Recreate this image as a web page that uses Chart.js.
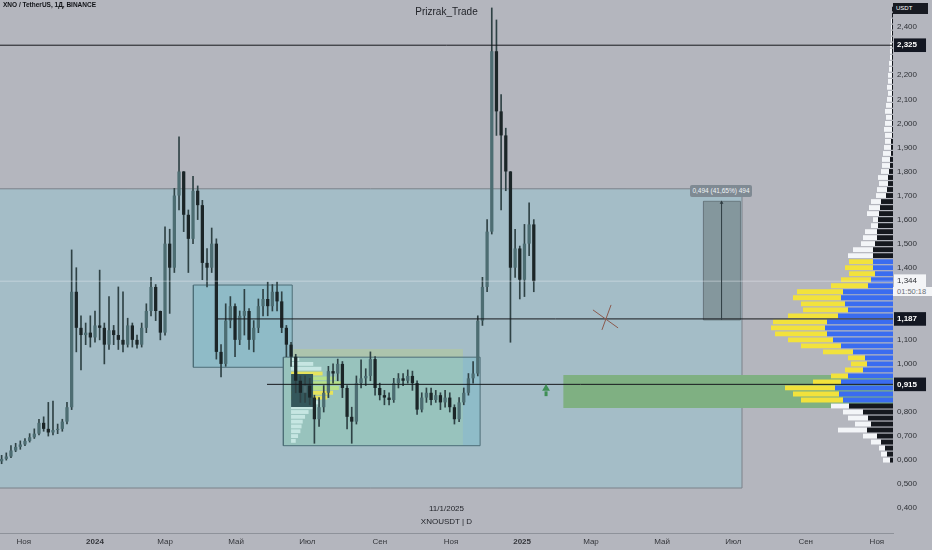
<!DOCTYPE html>
<html>
<head>
<meta charset="utf-8">
<script src="https://cdn.jsdelivr.net/npm/chart.js@4.4.1/dist/chart.umd.min.js"></script>
<style>
html, body { margin: 0; padding: 0; background: #b4b6be; }
#wrap { position: relative; width: 932px; height: 550px; overflow: hidden; font-family: "Liberation Sans", Arial, sans-serif; }
#chart { position: absolute; left: 0; top: 0; }
.lbl { position: absolute; white-space: nowrap; }
</style>
</head>
<body>
<div id="wrap">
  <canvas id="chart" width="932" height="550"></canvas>
  <div class="lbl" style="left:3px;top:1px;font-size:6.5px;font-weight:bold;color:#101216">XNO / TetherUS, 1Д, BINANCE</div>
  <div class="lbl" style="left:0;width:893px;top:6px;text-align:center;font-size:10px;color:#1e2026">Prizrak_Trade</div>
  <div class="lbl" style="left:0;width:893px;top:504px;text-align:center;font-size:8px;color:#1e2026">11/1/2025</div>
  <div class="lbl" style="left:0;width:893px;top:517px;text-align:center;font-size:8px;color:#1e2026">XNOUSDT | D</div>
  <div class="lbl" style="left:893px;top:3px;width:32px;height:11px;padding-left:3px;background:#181b22;color:#fff;font-size:6px;line-height:11px">USDT</div>
  <div class="lbl" style="left:690px;top:185px;width:62px;height:12px;background:#7f8a93;border-radius:2px;color:#eef2f6;font-size:6.5px;line-height:12px;text-align:center">0,494 (41,65%) 494</div>
  <div class="lbl" id="timer" style="left:893px;top:287px;width:35px;height:9px;padding-left:4px;background:#f4f5f7;color:#6b6f78;font-size:7.5px;line-height:9px">01:50:18</div>
</div>
<script>
// days are counted from 1 Jan 2024
var firstCandleDay = -80;
var candleStepDays = 4;

var opens = [0.595,0.605,0.615,0.640,0.655,0.665,0.680,0.695,0.710,0.755,
  0.730,0.715,0.725,0.730,0.760,0.820,1.300,1.150,1.120,1.130,
  1.110,1.160,1.150,1.080,1.140,1.120,1.100,1.080,1.160,1.100,
  1.080,1.150,1.220,1.320,1.220,1.130,1.500,1.400,1.700,1.800,
  1.620,1.520,1.720,1.660,1.420,1.400,1.500,1.050,1.000,1.180,
  1.240,1.100,1.200,1.220,1.100,1.150,1.240,1.270,1.240,1.300,
  1.260,1.150,1.080,1.030,0.930,0.880,0.910,0.860,0.770,0.820,
  0.880,0.970,0.960,1.000,0.900,0.780,0.760,0.920,0.940,0.950,
  1.020,0.900,0.870,0.860,0.850,0.920,0.940,0.930,0.950,0.920,
  0.810,0.860,0.880,0.850,0.870,0.840,0.860,0.820,0.770,0.840,
  0.880,0.940,0.960,1.180,1.320,1.550,2.300,2.050,1.950,1.800,
  1.400,1.480,1.350,1.500,1.580];
var highs = [0.620,0.630,0.660,0.670,0.680,0.690,0.710,0.730,0.770,0.780,
  0.840,0.845,0.750,0.770,0.840,1.474,1.400,1.200,1.170,1.200,
  1.220,1.390,1.170,1.280,1.160,1.320,1.300,1.190,1.170,1.120,
  1.170,1.250,1.360,1.330,1.220,1.570,1.560,1.730,1.944,1.800,
  1.640,1.780,1.740,1.680,1.480,1.565,1.520,1.080,1.250,1.280,
  1.250,1.220,1.310,1.230,1.180,1.270,1.310,1.340,1.330,1.340,
  1.300,1.160,1.090,1.040,0.950,0.950,0.940,0.870,0.860,0.910,
  0.990,1.000,1.020,1.010,0.910,0.820,0.950,1.017,0.980,1.050,
  1.030,0.920,0.890,0.880,0.940,0.960,0.960,0.975,0.970,0.930,
  0.880,0.900,0.900,0.890,0.880,0.890,0.880,0.830,0.860,0.900,
  0.960,1.010,1.200,1.360,1.600,2.480,2.430,2.120,1.980,1.800,
  1.560,1.490,1.580,1.670,1.600];
var lows = [0.585,0.600,0.610,0.635,0.645,0.660,0.675,0.690,0.705,0.720,
  0.700,0.705,0.710,0.720,0.750,0.810,1.050,0.975,1.080,1.070,
  1.090,1.100,1.000,1.060,1.080,1.060,1.050,1.070,1.070,1.065,
  1.070,1.130,1.200,1.180,1.100,1.120,1.210,1.380,1.640,1.550,
  1.380,1.500,1.600,1.350,1.320,1.380,1.020,0.946,0.990,1.150,
  1.030,1.080,1.120,1.060,1.050,1.130,1.200,1.200,1.220,1.220,
  1.130,1.030,0.990,0.880,0.840,0.840,0.830,0.670,0.740,0.800,
  0.860,0.920,0.930,0.860,0.730,0.670,0.750,0.900,0.910,0.930,
  0.870,0.850,0.830,0.830,0.840,0.900,0.910,0.920,0.890,0.790,
  0.800,0.840,0.830,0.840,0.810,0.820,0.800,0.750,0.760,0.830,
  0.870,0.920,0.950,1.160,1.300,1.540,1.950,1.640,1.720,1.090,
  1.360,1.270,1.280,1.450,1.300];
var closes = [0.605,0.615,0.640,0.655,0.665,0.680,0.695,0.710,0.755,0.730,
  0.715,0.725,0.730,0.760,0.820,1.300,1.150,1.120,1.130,1.110,
  1.160,1.150,1.080,1.140,1.120,1.100,1.080,1.160,1.100,1.080,
  1.150,1.220,1.320,1.220,1.130,1.500,1.400,1.700,1.800,1.620,
  1.520,1.720,1.660,1.420,1.400,1.500,1.050,1.000,1.180,1.240,
  1.100,1.200,1.220,1.100,1.150,1.240,1.270,1.240,1.300,1.260,
  1.150,1.080,1.030,0.930,0.880,0.910,0.860,0.770,0.820,0.880,
  0.970,0.960,1.000,0.900,0.780,0.760,0.920,0.940,0.950,1.020,
  0.900,0.870,0.860,0.850,0.920,0.940,0.930,0.950,0.920,0.810,
  0.860,0.880,0.850,0.870,0.840,0.860,0.820,0.770,0.840,0.880,
  0.940,0.960,1.180,1.320,1.550,2.300,2.050,1.950,1.800,1.400,
  1.480,1.350,1.500,1.580,1.344];

// visible volume profile, rows from 0.600 upwards every 0.025
var vpFirstPrice = 0.600;
var vpStep = 0.025;
var vpTotal = [10,12,14,22,30,55,38,45,50,62,
  92,100,108,80,62,48,42,45,70,92,
  105,118,122,120,105,90,92,100,96,62,
  52,44,48,44,45,40,32,30,28,22,
  20,26,24,22,17,16,14,15,12,11,
  11,10,9,8,8,9,8,7,8,7,
  6,5,6,5,5,4,4,3,3,3,
  2,2,2,2,1,1];
var vpInner = [3,6,8,12,16,26,22,25,30,44,
  50,54,58,52,45,30,26,28,40,52,
  60,66,68,66,55,45,48,52,50,25,
  22,18,20,20,20,20,18,16,16,15,
  15,14,13,12,7,6,5,5,4,3,
  3,2,2,2,1,1,1,1,1,1,
  1,1,1,1,1,1,1,1,1,1,
  1,1,1,1,1,1];
var vaLow = 0.84, vaHigh = 1.43;

// fixed range profile inside the lower range box
var miniAnchorDay = 168;
var miniPrices = [0.68,0.70,0.72,0.74,0.76,0.78,0.80,0.82,0.84,0.86,0.88,0.90,0.92,0.94,0.96,0.98,1.00,1.02];
var miniLen = [4,6,8,9,10,12,15,19,24,31,36,41,43,38,27,26,19,7];

// drawings: [dayFrom, dayTo, priceLow, priceHigh]
var mainZone = [-120, 554.4, 0.484, 1.728];
var rangeBox1 = [84.3, 169.0, 0.986, 1.328];
var rangeBox2 = [161.4, 330.0, 0.660, 1.028];
var box2Fill = [161.4, 315.3, 0.660, 1.028];
var box2Band = [169.7, 315.3, 1.028, 1.062];
var darkBlock = [168.0, 187.0, 0.821, 0.958];
var greenZone = [401.2, 700, 0.817, 0.954];
var measureBox = [521.4, 553.1, 1.183, 1.676];
var measureDay = 536.9;

var levelPrices = [2.325, 1.187, 0.915];
var levelFrom = [-120, 104.5, 147.4];
var lastPrice = 1.344;
var crossA = [[426.7, 1.2245], [448.2, 1.1497]];
var crossB = [[442.2, 1.2453], [434.4, 1.1414]];
var arrowDay = 386.5;
var arrowTip = 0.898, arrowTail = 0.866;

var yTickValues = [0.4,0.5,0.6,0.7,0.8,1.0,1.1,1.4,1.5,1.6,1.7,1.8,1.9,2.0,2.1,2.2,2.4];
var monthTickDays = [-61,0,60,121,182,244,305,366,425,486,547,609,670];
var monthTickLabels = ['Ноя','2024','Мар','Май','Июл','Сен','Ноя','2025','Мар','Май','Июл','Сен','Ноя'];

var xMin = -81.4, xMax = 683.8, yMin = 0.297, yMax = 2.513;
var fontFam = '"Liberation Sans", Arial, sans-serif';

function fmtPrice(v) { return v.toFixed(3).replace('.', ','); }

function rectFill(r, color, order) {
  return { type: 'line', data: [{x: r[0], y: r[3]}, {x: r[1], y: r[3]}], fill: {value: r[2]},
    backgroundColor: color, borderWidth: 0, pointRadius: 0, order: order };
}
function rectLine(r, color, order) {
  return { type: 'line', data: [{x: r[0], y: r[2]}, {x: r[1], y: r[2]}, {x: r[1], y: r[3]}, {x: r[0], y: r[3]}, {x: r[0], y: r[2]}],
    borderColor: color, borderWidth: 1, pointRadius: 0, fill: false, order: order };
}
function segment(pts, color, width, order) {
  return { type: 'line', data: pts.map(function(p) { return {x: p[0], y: p[1]}; }),
    borderColor: color, borderWidth: width, pointRadius: 0, fill: false, order: order };
}

var candleDays = closes.map(function(c, i) { return firstCandleDay + i * candleStepDays; });
var vpPrices = vpTotal.map(function(v, i) { return +(vpFirstPrice + i * vpStep).toFixed(3); });
function inVA(p) { return p >= vaLow && p <= vaHigh; }

var datasets = [
  rectFill(mainZone, '#a4bdc7', 100),
  rectLine(mainZone, '#7c838b', 99),
  rectFill(greenZone, '#7fb082', 98),
  rectFill(measureBox, '#84979d', 97),
  rectLine(measureBox, '#6a7a80', 96),
  rectFill(rangeBox1, '#8fbbc7', 95),
  rectLine(rangeBox1, '#4d6e78', 94),
  rectFill(rangeBox2, '#8fbcc8', 93),
  rectFill(box2Fill, '#98c3bd', 92),
  rectFill(box2Band, '#adc4ad', 91),
  {
    type: 'bar', indexAxis: 'y', xAxisID: 'xm', yAxisID: 'ym', grouped: false, order: 86,
    data: miniPrices.map(function(p, i) { return {y: p, x: [miniAnchorDay, miniAnchorDay + miniLen[i]]}; }),
    backgroundColor: function(c) {
      var p = miniPrices[c.dataIndex];
      if (p >= 0.855 && p <= 0.965) return (p >= 0.895 && p <= 0.945) ? '#b6e08a' : '#e6e35c';
      return '#c6e6e2';
    },
    barPercentage: 0.8, categoryPercentage: 1, borderWidth: 0
  },
  rectFill(darkBlock, '#34575b', 85),
  rectLine(rangeBox2, '#4d6e78', 84),
  {
    type: 'bar', indexAxis: 'y', xAxisID: 'xv', yAxisID: 'yv', grouped: false, order: 81,
    data: vpPrices.map(function(p, i) { return {y: p, x: [vpInner[i], vpTotal[i]]}; }),
    backgroundColor: function(c) { return inVA(vpPrices[c.dataIndex]) ? '#f2e23c' : '#f3f5f8'; },
    barPercentage: 0.8, categoryPercentage: 1, borderWidth: 0
  },
  {
    type: 'bar', indexAxis: 'y', xAxisID: 'xv', yAxisID: 'yv', grouped: false, order: 80,
    data: vpPrices.map(function(p, i) { return {y: p, x: [0, vpInner[i]]}; }),
    backgroundColor: function(c) { return inVA(vpPrices[c.dataIndex]) ? '#3a6cf0' : '#15181e'; },
    barPercentage: 0.8, categoryPercentage: 1, borderWidth: 0
  },
  {
    type: 'bar', grouped: false, order: 20,
    data: candleDays.map(function(d, i) { return {x: d, y: [lows[i], highs[i]]}; }),
    backgroundColor: '#2f4245', barThickness: 1, borderWidth: 0
  },
  {
    type: 'bar', grouped: false, order: 19,
    data: candleDays.map(function(d, i) { return {x: d, y: [opens[i], closes[i]]}; }),
    backgroundColor: function(c) { var i = c.dataIndex; return closes[i] >= opens[i] ? '#4d6d72' : '#1b2527'; },
    barPercentage: 0.7, categoryPercentage: 1, minBarLength: 1, borderWidth: 0
  },
  segment([[-120, lastPrice], [700, lastPrice]], 'rgba(232,238,244,0.45)', 1, 15)
];

levelPrices.forEach(function(p, i) {
  datasets.push(segment([[levelFrom[i], p], [700, p]], '#17191d', 1, 10));
});
datasets.push(segment(crossA, '#8c5a4e', 1, 9));
datasets.push(segment(crossB, '#8c5a4e', 1, 9));
datasets.push(segment([[arrowDay, arrowTail], [arrowDay, arrowTip - 0.012]], '#3f8f55', 3, 8));
datasets.push({
  type: 'line', data: [{x: arrowDay, y: arrowTip}], showLine: false, pointStyle: 'triangle',
  pointRadius: 4.5, pointBackgroundColor: '#3f8f55', pointBorderWidth: 0, order: 8
});
datasets.push(segment([[measureDay, measureBox[2]], [measureDay, measureBox[3] - 0.006]], '#2e3c42', 1, 7));
datasets.push({
  type: 'line', data: [{x: measureDay, y: measureBox[3] - 0.006}], showLine: false, pointStyle: 'triangle',
  pointRadius: 2.2, pointBackgroundColor: '#2e3c42', pointBorderWidth: 0, order: 7
});

function tickVal(c) { return c.tick ? c.tick.value : null; }
function isTag(v) { return levelPrices.indexOf(v) >= 0; }

new Chart(document.getElementById('chart'), {
  type: 'bar',
  data: { datasets: datasets },
  options: {
    responsive: false,
    animation: false,
    events: [],
    layout: { padding: 0, autoPadding: false },
    plugins: { legend: { display: false }, tooltip: { enabled: false } },
    scales: {
      x: {
        type: 'linear', position: 'bottom', min: xMin, max: xMax, offset: false,
        grid: { display: false, drawTicks: false },
        border: { display: true, color: '#8e929a' },
        afterBuildTicks: function(s) { s.ticks = monthTickDays.map(function(v) { return {value: v}; }); },
        afterFit: function(s) { s.height = 17; s.paddingLeft = 0; s.paddingRight = 0; },
        ticks: {
          autoSkip: false, maxRotation: 0, padding: 4, color: '#34363b',
          font: function(c) {
            var idx = monthTickDays.indexOf(tickVal(c));
            var bold = idx >= 0 && /^\d{4}$/.test(monthTickLabels[idx]);
            return { family: fontFam, size: 8, weight: bold ? 'bold' : 'normal' };
          },
          callback: function(v) { return monthTickLabels[monthTickDays.indexOf(v)]; }
        }
      },
      y: {
        type: 'linear', position: 'right', min: yMin, max: yMax, offset: false,
        grid: { display: false, drawTicks: false },
        border: { display: false },
        afterBuildTicks: function(s) {
          s.ticks = yTickValues.concat(levelPrices, [lastPrice]).map(function(v) { return {value: v}; });
        },
        afterFit: function(s) { s.width = 39; s.paddingTop = 0; s.paddingBottom = 0; },
        ticks: {
          autoSkip: false, padding: 4, crossAlign: 'near',
          color: function(c) { var v = tickVal(c); return isTag(v) ? '#ffffff' : '#2f3136'; },
          font: function(c) { var v = tickVal(c); return { family: fontFam, size: 8, weight: isTag(v) ? 'bold' : 'normal' }; },
          showLabelBackdrop: function(c) { var v = tickVal(c); return isTag(v) || v === lastPrice; },
          backdropColor: function(c) { var v = tickVal(c); return isTag(v) ? '#131722' : (v === lastPrice ? '#f4f5f7' : 'rgba(0,0,0,0)'); },
          backdropPadding: { left: 3, right: 9, top: 2, bottom: 2 },
          callback: function(v) { return fmtPrice(v); }
        }
      },
      xm: { type: 'linear', display: false, min: xMin, max: xMax, offset: false },
      ym: { type: 'linear', display: false, min: yMin, max: yMax, offset: false },
      xv: { type: 'linear', display: false, min: 0, max: 893, reverse: true, offset: false },
      yv: { type: 'linear', display: false, min: yMin, max: yMax, offset: false }
    }
  }
});
</script>
</body>
</html>
